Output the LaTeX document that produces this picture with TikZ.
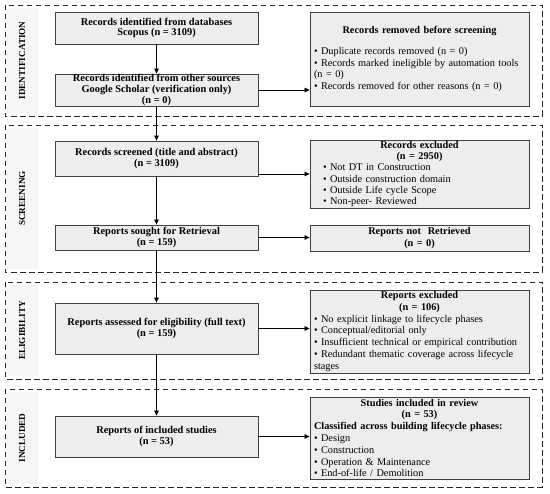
\documentclass[tikz,border=0pt]{standalone}
\usepackage{fontspec}
\setmainfont{Liberation Serif}
\usetikzlibrary{arrows.meta}
\begin{document}
\begin{tikzpicture}[x=1pt,y=-1pt,
  panel/.style={draw=black!85, dash pattern=on 5.5pt off 3.5pt, line width=0.9pt},
  strip/.style={fill=black!4, draw=none},
  phase/.style={rotate=90, font=\fontsize{9.2}{10}\selectfont\bfseries},
  lbox/.style={draw=black!75, line width=0.8pt, fill=black!7, align=center,
    font=\fontsize{10.4}{10.6}\selectfont\bfseries, minimum width=203pt, inner xsep=2pt, inner ysep=0pt},
  rbox/.style={draw=black!75, line width=0.8pt, fill=black!7, text width=211pt,
    inner xsep=4pt, inner ysep=1pt, font=\fontsize{10.3}{11.8}\selectfont},
  arr/.style={-{Triangle[length=5pt,width=4.5pt]}, line width=0.7pt}
]
\useasboundingbox (0,0) rectangle (550,494);
% panels
\draw[panel] (5,5) rectangle (542,116);
\draw[panel] (5,125) rectangle (542,272);
\draw[panel] (5,282) rectangle (542,379);
\draw[panel] (5,389) rectangle (542,487);
\fill[strip] (7,8) rectangle (38,113);
\fill[strip] (7,128) rectangle (38,269);
\fill[strip] (7,285) rectangle (38,376);
\fill[strip] (7,392) rectangle (38,484);
\node[phase] (pid) at (22,60.5) {IDENTIFICATION};
\node[phase] (psc) at (22,198.5) {SCREENING};
\node[phase] (pel) at (22,330.5) {ELIGIBILITY};
\node[phase] (pin) at (22,438) {INCLUDED};
% left boxes
\node[lbox, minimum height=32pt] (b1) at (156.5,28) {Records identified from databases\\Scopus (n = 3109)};
\node[lbox, minimum height=32pt] (b2) at (156.5,90) {Records identified from other sources\\Google Scholar (verification only)\\(n = 0)};
\node[lbox, minimum height=35pt] (b3) at (156.5,158.5) {Records screened (title and abstract)\\(n = 3109)};
\node[lbox, minimum height=25pt] (b4) at (156.5,237.5) {Reports sought for Retrieval\\(n = 159)};
\node[lbox, minimum height=51pt] (b5) at (156.5,328.5) {Reports assessed for eligibility (full text)\\(n = 159)};
\node[lbox, minimum height=41pt] (b6) at (156.5,436.5) {Reports of included studies\\(n = 53)};
% right boxes
\node[rbox, minimum height=94pt] (r1) at (419.5,59) {{\centering\textbf{Records removed before screening}\par}\vspace{9pt}
• Duplicate records removed (n = 0)\\
• Records marked ineligible by automation tools\\
(n = 0)\\
• Records removed for other reasons (n = 0)};
\node[rbox, minimum height=68pt, font=\fontsize{10.3}{11.3}\selectfont] (r2) at (419.5,174) {{\centering\textbf{Records excluded}\\\textbf{(n = 2950)}\par}
{\leftskip=9pt • Not DT in Construction\\
• Outside construction domain\\
• Outside Life cycle Scope\\
• Non-peer- Reviewed\par}};
\node[rbox, minimum height=26pt] (r3) at (419.5,238) {{\centering\textbf{Reports not\ \ Retrieved}\\\textbf{(n = 0)}\par}};
\node[rbox, minimum height=83pt] (r4) at (419.5,331.5) {{\centering\textbf{Reports excluded}\\\textbf{(n = 106)}\par}
• No explicit linkage to lifecycle phases\\
• Conceptual/editorial only\\
• Insufficient technical or empirical contribution\\
• Redundant thematic coverage across lifecycle\\
stages};
\node[rbox, minimum height=82pt] (r5) at (419.5,438) {{\centering\textbf{Studies included in review}\\\textbf{(n = 53)}\par}
\textbf{Classified across building lifecycle phases:}\\
• Design\\
• Construction\\
• Operation \& Maintenance\\
• End-of-life / Demolition};
% connectors
\draw[arr] (b1) -- (b2);
\draw[arr] (b2) -- (b3);
\draw[arr] (b3) -- (b4);
\draw[arr] (b4) -- (b5);
\draw[arr] (b5) -- (b6);
\draw[arr] (b2.east) -- (b2.east -| r1.west);
\draw[arr] (r2.west -| b3.east) -- (r2.west);
\draw[arr] (b4.east) -- (b4.east -| r3.west);
\draw[arr] (b5.east) -- (b5.east -| r4.west);
\draw[arr] (b6.east) -- (b6.east -| r5.west);
\end{tikzpicture}
\end{document}
